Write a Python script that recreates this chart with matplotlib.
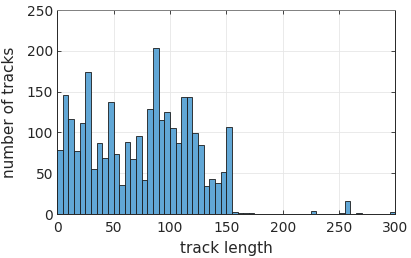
import numpy as np
import matplotlib
matplotlib.use("Agg")
import matplotlib.pyplot as plt

bin_width = 5
bin_starts = list(range(0, 300, 5))
counts = [78, 146, 117, 77, 111, 174, 55, 87, 69, 137,
          74, 36, 88, 68, 96, 42, 129, 203, 115, 125,
          106, 87, 143, 144, 99, 84, 34, 43, 38, 52,
          107, 2, 1, 1, 1, 0, 0, 0, 0, 0,
          0, 0, 0, 0, 0, 4, 0, 0, 0, 0,
          1, 16, 0, 1, 0, 0, 0, 0, 0, 3]
x_ticks = [0, 50, 100, 150, 200, 250, 300]
y_ticks = [0, 50, 100, 150, 200, 250]

fig = plt.figure(figsize=(4.11, 2.58), dpi=100)
ax = fig.add_axes([0.139, 0.1705, 0.823, 0.7905])

face = (0.38, 0.655, 0.84)
ax.bar(bin_starts, counts, width=bin_width, align='edge', color=face,
       edgecolor='#1a1a1a', linewidth=0.6, zorder=3)

ax.set_xlim(0, 300)
ax.set_ylim(0, 250)
ax.set_xticks(x_ticks)
ax.set_yticks(y_ticks)
ax.grid(True, color='#e6e6e6', linewidth=0.6, zorder=0)
ax.set_axisbelow(True)
ax.tick_params(direction='in', top=True, right=True, length=3, width=0.6,
               labelsize=10, colors='#262626')
ax.tick_params(axis='x', pad=5)
ax.tick_params(axis='y', pad=3)
for s in ax.spines.values():
    s.set_color('#262626')
    s.set_linewidth(0.7)
ax.spines['top'].set_color('#808080')
ax.set_xlabel('track length', fontsize=11, color='#262626', labelpad=4)
ax.set_ylabel('number of tracks', fontsize=11, color='#262626', labelpad=7)

fig.savefig('out.png', dpi=100)
